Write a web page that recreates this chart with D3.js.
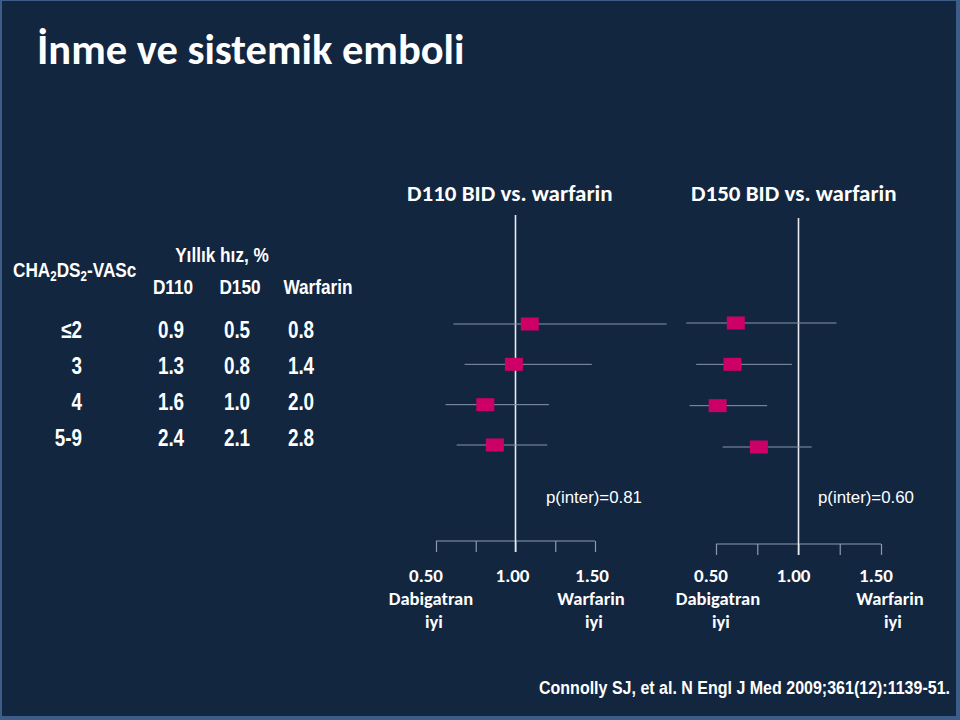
<!DOCTYPE html>
<html>
<head>
<meta charset="utf-8">
<script src="https://cdn.jsdelivr.net/npm/d3@7"></script>
<style>
  body { margin: 0; background: #13263f; }
  svg { display: block; }
  .narrow { font-family: "Liberation Sans Narrow", "Arial Narrow", "Liberation Sans", Arial, sans-serif; }
  .calibri { font-family: Carlito, Calibri, "Open Sans", sans-serif; }
  .arial { font-family: "Liberation Sans", Arial, sans-serif; }
</style>
</head>
<body>
<svg id="chart"></svg>
<script>
// CHA2DS2-VASc groups and annual rates (%)
const groups = ["≤2", "3", "4", "5-9"];
const rateD110 = [0.9, 1.3, 1.6, 2.4];
const rateD150 = [0.5, 0.8, 1.0, 2.1];
const rateWarfarin = [0.8, 1.4, 2.0, 2.8];

// hazard ratios vs warfarin
const hrD110 = [1.09, 0.99, 0.81, 0.87];
const loD110 = [0.61, 0.68, 0.56, 0.63];
const hiD110 = [1.95, 1.48, 1.21, 1.20];

const hrD150 = [0.62, 0.60, 0.51, 0.76];
const loD150 = [0.32, 0.38, 0.34, 0.54];
const hiD150 = [1.23, 0.96, 0.81, 1.08];

const panelTitles = ["D110 BID vs. warfarin", "D150 BID vs. warfarin"];
const pInter = ["0.81", "0.60"];
const axisTicks = [0.5, 0.75, 1.0, 1.25, 1.5];
const labelTicks = [0.5, 1.0, 1.5];
const sideLabels = ["Dabigatran", "Warfarin"];

const width = 960, height = 720;
const pink = "#cc0066";
const squeeze = 0.82; // no Arial Narrow installed, so squeeze Liberation Sans

const svg = d3.select("#chart")
    .attr("width", width)
    .attr("height", height);

// slide frame
svg.append("rect")
    .attr("width", width).attr("height", height)
    .attr("fill", "#3b5d88");
svg.append("rect")
    .attr("x", 2).attr("y", 1)
    .attr("width", width - 6).attr("height", height - 5)
    .attr("fill", "#13263f");

// title
svg.append("text")
    .attr("class", "calibri")
    .attr("x", 37).attr("y", 64)
    .attr("fill", "#fff")
    .attr("font-size", 42.5)
    .attr("font-weight", 700)
    .text("İnme ve sistemik emboli");

// narrow bold text helper
function narrow(parent, x, y, size, anchor) {
    return parent.append("g")
        .attr("transform", `translate(${x},${y}) scale(${squeeze},1)`)
        .append("text")
        .attr("text-anchor", anchor || "start")
        .attr("font-size", size);
}

// ---- table ----
const table = svg.append("g").attr("class", "narrow").attr("fill", "#fff").attr("font-weight", 700);

const hdr = narrow(table, 13, 277, 21);
hdr.append("tspan").text("CHA");
hdr.append("tspan").attr("font-size", 14).attr("dy", 4).text("2");
hdr.append("tspan").attr("dy", -4).text("DS");
hdr.append("tspan").attr("font-size", 14).attr("dy", 4).text("2");
hdr.append("tspan").attr("dy", -4).text("-VASc");

narrow(table, 222, 262, 21, "middle").text("Yıllık hız, %");

const cols = [
    { name: "D110", x: 173, vx: 171, values: rateD110 },
    { name: "D150", x: 240, vx: 237, values: rateD150 },
    { name: "Warfarin", x: 318, vx: 301, values: rateWarfarin }
];

const rowY = d3.scalePoint().domain(groups).range([330, 438]);

cols.forEach(c => narrow(table, c.x, 294, 21, "middle").text(c.name));

groups.forEach(gr => narrow(table, 82, rowY(gr) + 8, 23, "end").text(gr));

cols.forEach(c => {
    c.values.forEach((v, i) => {
        narrow(table, c.vx, rowY(groups[i]) + 8, 23, "middle").text(v.toFixed(1));
    });
});

// ---- forest plots ----
const panels = [
    { title: panelTitles[0], p: pInter[0], hr: hrD110, lo: loD110, hi: hiD110,
      range: [436, 595], rows: [324, 445], top: 215, axisY: 541, titleX: 407, pX: 546,
      numDx: [-10, -3, -3], sideDx: [-5, -4] },
    { title: panelTitles[1], p: pInter[1], hr: hrD150, lo: loD150, hi: hiD150,
      range: [716, 881], rows: [323, 447], top: 218, axisY: 544, titleX: 691, pX: 818,
      numDx: [-5, -5, -5], sideDx: [2, 9] }
];

panels.forEach(pn => {
    const g = svg.append("g");
    const x = d3.scaleLinear().domain([0.5, 1.5]).range(pn.range);
    const y = d3.scalePoint().domain(groups).range(pn.rows);

    g.append("text")
        .attr("class", "calibri")
        .attr("x", pn.titleX).attr("y", 201)
        .attr("fill", "#fff")
        .attr("font-size", 23)
        .attr("font-weight", 600)
        .text(pn.title);

    // axis
    const axis = g.append("g")
        .attr("transform", `translate(0,${pn.axisY})`)
        .call(d3.axisBottom(x).tickValues(axisTicks).tickSize(11).tickFormat(""));
    axis.select(".domain").attr("stroke", "#8d9aae").attr("stroke-width", 1.2)
        .attr("d", `M${x(0.5)},0H${x(1.5)}`);
    axis.selectAll(".tick line").attr("stroke", "#8d9aae").attr("stroke-width", 1.2);

    // reference line at 1
    g.append("line")
        .attr("x1", x(1)).attr("x2", x(1))
        .attr("y1", pn.top).attr("y2", pn.axisY + 11)
        .attr("stroke", "#e8ecf2").attr("stroke-width", 1.6);

    // CI lines
    g.selectAll(".ci")
        .data(groups)
        .join("line")
        .attr("class", "ci")
        .attr("x1", (d, i) => x(pn.lo[i]))
        .attr("x2", (d, i) => x(pn.hi[i]))
        .attr("y1", d => y(d)).attr("y2", d => y(d))
        .attr("stroke", "#8896aa").attr("stroke-width", 1);

    // point estimates
    g.selectAll(".pt")
        .data(groups)
        .join("rect")
        .attr("class", "pt")
        .attr("x", (d, i) => x(pn.hr[i]) - 9)
        .attr("y", d => y(d) - 6.5)
        .attr("width", 18).attr("height", 13)
        .attr("fill", pink);

    g.append("text")
        .attr("class", "arial")
        .attr("x", pn.pX).attr("y", 503)
        .attr("fill", "#fff")
        .attr("font-size", 17)
        .attr("textLength", 96)
        .attr("lengthAdjust", "spacingAndGlyphs")
        .text(`p(inter)=${pn.p}`);

    // tick labels
    const lab = g.append("g").attr("class", "calibri").attr("fill", "#fff")
        .attr("font-weight", 700).attr("text-anchor", "middle");
    lab.selectAll(".num")
        .data(labelTicks)
        .join("text")
        .attr("class", "num")
        .attr("x", (d, i) => x(d) + pn.numDx[i])
        .attr("y", 582)
        .attr("font-size", 19)
        .text(d => d.toFixed(2));
    [labelTicks[0], labelTicks[2]].forEach((t, i) => {
        lab.append("text")
            .attr("x", x(t) + pn.sideDx[i]).attr("y", 605)
            .attr("font-size", 18.5)
            .text(sideLabels[i]);
        lab.append("text")
            .attr("x", x(t) + pn.sideDx[i] + 3).attr("y", 628)
            .attr("font-size", 18.5)
            .text("iyi");
    });
});

// citation, squeezed like the narrow table text
narrow(svg, 539, 694, 17.5)
    .attr("class", "arial")
    .attr("fill", "#fff")
    .attr("font-weight", 700)
    .attr("textLength", 411 / squeeze)
    .attr("lengthAdjust", "spacingAndGlyphs")
    .text("Connolly SJ, et al. N Engl J Med 2009;361(12):1139-51.");
</script>
</body>
</html>
